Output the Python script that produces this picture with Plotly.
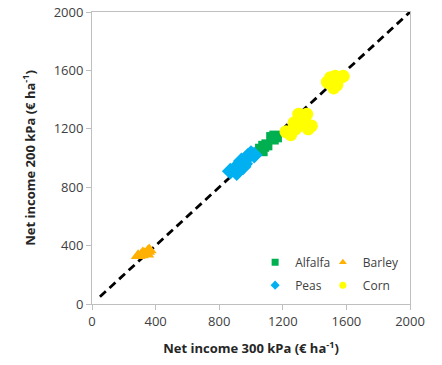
import plotly.graph_objects as go

alfalfa_x = [1060, 1080, 1070, 1100, 1130, 1150, 1140, 1160]
alfalfa_y = [1060, 1080, 1050, 1090, 1140, 1150, 1130, 1145]
barley_x = [290, 310, 330, 345, 360, 350, 320]
barley_y = [330, 335, 345, 340, 370, 360, 350]
peas_x = [870, 900, 910, 920, 950, 940, 960, 980, 1000, 1020]
peas_y = [910, 920, 900, 950, 940, 980, 960, 1010, 1030, 1020]
corn_x = [1220, 1250, 1270, 1300, 1320, 1340, 1360, 1380, 1350, 1300, 1280,
          1480, 1500, 1530, 1560, 1540, 1520, 1580, 1500, 1510]
corn_y = [1180, 1160, 1240, 1300, 1280, 1250, 1200, 1220, 1300, 1220, 1200,
          1520, 1550, 1560, 1550, 1500, 1480, 1560, 1510, 1540]
line_x = [50, 2000]
line_y = [50, 2000]
ticks = [0, 400, 800, 1200, 1600, 2000]

series = [
    ("Alfalfa", alfalfa_x, alfalfa_y, "square", 11, "#00b050", "legend"),
    ("Barley", barley_x, barley_y, "triangle-up", 13, "#ffb000", "legend2"),
    ("Peas", peas_x, peas_y, "diamond", 13, "#00b0f0", "legend"),
    ("Corn", corn_x, corn_y, "circle", 13, "#ffff00", "legend2"),
]

font = "Open Sans"
fig = go.Figure()
fig.add_trace(go.Scatter(x=line_x, y=line_y, mode="lines", showlegend=False,
                         line=dict(color="black", width=2.8, dash="8px,5px")))
for name, xs, ys, sym, sz, col, lg in series:
    fig.add_trace(go.Scatter(x=xs, y=ys, mode="markers", name=name, showlegend=False,
                             marker=dict(symbol=sym, size=sz, color=col)))
for name, xs, ys, sym, sz, col, lg in series:
    fig.add_trace(go.Scatter(x=[None], y=[None], mode="markers", name=name, legend=lg,
                             legendgroup=name,
                             marker=dict(symbol=sym, size=7, color=col)))

axis_common = dict(range=[0, 2000], tickvals=ticks, showgrid=False, zeroline=False,
                   showline=True, linecolor="#bfbfbf", linewidth=1, mirror=True,
                   ticks="outside", ticklen=5, tickcolor="#bfbfbf", automargin=False,
                   tickfont=dict(family=font, size=13, color="#404040"))
legend_common = dict(xanchor="left", yanchor="top", tracegroupgap=4,
                     font=dict(family=font, size=12, color="#404040"),
                     bgcolor="rgba(0,0,0,0)", itemwidth=30)
fig.update_layout(
    width=442, height=365, margin=dict(l=92, r=32, t=12, b=61),
    plot_bgcolor="white", paper_bgcolor="white",
    xaxis=dict(**axis_common,
               title=dict(text="<b>Net income 300 kPa (€ ha<sup>-1</sup>)</b>",
                          font=dict(family=font, size=13, color="#262626"))),
    yaxis=dict(**axis_common,
               title=dict(text="<b>Net income 200 kPa (€ ha<sup>-1</sup>)</b>",
                          font=dict(family=font, size=13, color="#262626"))),
    legend=dict(x=0.513, y=0.193, **legend_common),
    legend2=dict(x=0.726, y=0.193, **legend_common),
)
fig.write_html("out.html", config={"displayModeBar": False},
               post_script="document.body.style.margin='0';document.body.style.padding='0';")
